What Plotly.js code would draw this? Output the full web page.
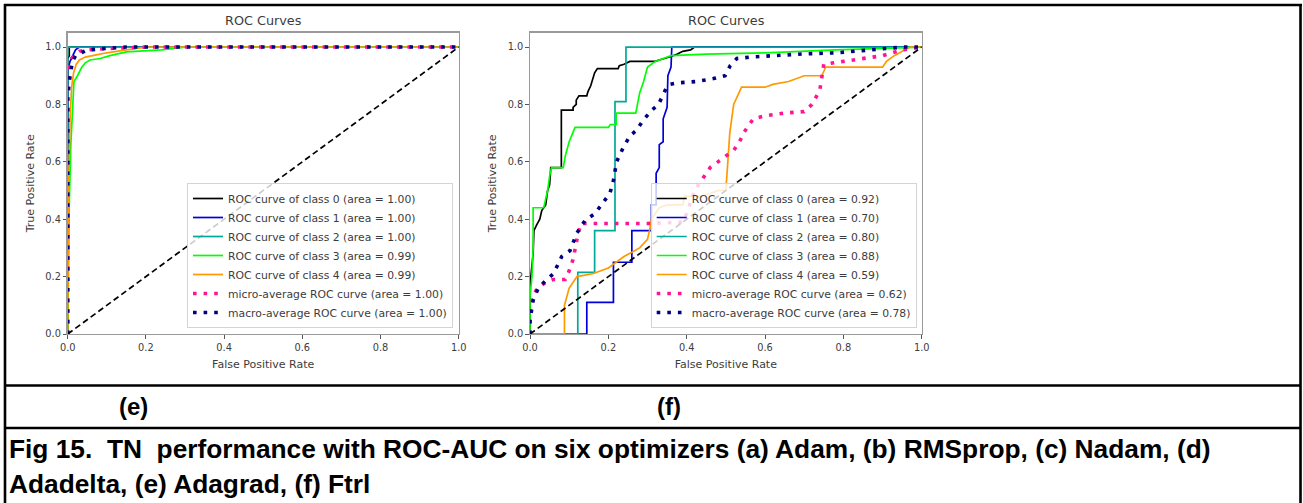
<!DOCTYPE html>
<html>
<head>
<meta charset="utf-8">
<script src="https://cdn.plot.ly/plotly-3.0.1.min.js"></script>
<style>
  html, body { margin: 0; padding: 0; background: #ffffff; }
  #fig { width: 1303px; height: 503px; }
</style>
</head>
<body>
<div id="fig"></div>
<script>
// ---------- Data ----------
const classLabels = ['0', '1', '2', '3', '4'];
const tickLabels = ['0.0', '0.2', '0.4', '0.6', '0.8', '1.0'];
const tickValues = [0, 0.2, 0.4, 0.6, 0.8, 1.0];

// (e) Adagrad
const adagradAuc = [1.00, 1.00, 1.00, 0.99, 0.99];
const adagradMicroAuc = 1.00;
const adagradMacroAuc = 1.00;
const adagradFpr0 = [0, 0, 0.004, 0.004, 1];
const adagradTpr0 = [0, 0.96, 0.97, 1.0, 1.0];
const adagradFpr1 = [0, 0, 0.006, 0.012, 0.02, 0.03, 1];
const adagradTpr1 = [0, 0.92, 0.95, 0.97, 0.99, 1.0, 1.0];
const adagradFpr2 = [0, 0, 1];
const adagradTpr2 = [0, 1.0, 1.0];
const adagradFpr3 = [0, 0.004, 0.008, 0.012, 0.016, 0.025, 0.036, 0.045, 0.057, 0.083, 0.108, 0.15, 0.24, 0.3, 1];
const adagradTpr3 = [0, 0.45, 0.66, 0.8, 0.88, 0.9, 0.93, 0.945, 0.955, 0.96, 0.97, 0.983, 0.99, 1.0, 1.0];
const adagradFpr4 = [0, 0.003, 0.006, 0.01, 0.015, 0.022, 0.03, 0.045, 0.07, 0.1, 0.15, 0.2, 1];
const adagradTpr4 = [0, 0.55, 0.75, 0.86, 0.91, 0.94, 0.955, 0.965, 0.972, 0.98, 0.99, 1.0, 1.0];
const adagradMicroFpr = [0, 0, 0.005, 0.01, 0.02, 0.03, 0.05, 0.1, 0.2, 1];
const adagradMicroTpr = [0, 0.9, 0.94, 0.96, 0.975, 0.985, 0.99, 0.995, 1.0, 1.0];
const adagradMacroFpr = [0, 0, 0.004, 0.008, 0.012, 0.02, 0.035, 0.05, 0.1, 0.15, 1];
const adagradMacroTpr = [0, 0.82, 0.88, 0.92, 0.95, 0.97, 0.98, 0.99, 0.995, 1.0, 1.0];

// (f) Ftrl
const ftrlAuc = [0.92, 0.70, 0.80, 0.88, 0.59];
const ftrlMicroAuc = 0.62;
const ftrlMacroAuc = 0.78;
const ftrlFpr0 = [0, 0, 0.008, 0.01, 0.017, 0.025, 0.03, 0.04, 0.045, 0.05, 0.053, 0.08, 0.08, 0.11, 0.11, 0.118, 0.118, 0.125, 0.145, 0.148, 0.155, 0.16, 0.165, 0.172, 0.225, 0.228, 0.24, 0.255, 0.32, 0.33, 0.345, 0.36, 0.375, 0.39, 0.41, 0.42, 1];
const ftrlTpr0 = [0, 0.17, 0.28, 0.36, 0.38, 0.40, 0.43, 0.45, 0.50, 0.52, 0.58, 0.58, 0.78, 0.78, 0.79, 0.80, 0.815, 0.83, 0.83, 0.845, 0.865, 0.885, 0.91, 0.925, 0.925, 0.935, 0.94, 0.95, 0.95, 0.955, 0.96, 0.967, 0.975, 0.985, 0.99, 1.0, 1.0];
const ftrlFpr1 = [0, 0.145, 0.145, 0.213, 0.213, 0.26, 0.26, 0.31, 0.31, 0.322, 0.322, 0.33, 0.33, 0.34, 0.34, 0.35, 0.352, 0.36, 0.362, 1];
const ftrlTpr1 = [0, 0, 0.11, 0.11, 0.25, 0.25, 0.36, 0.36, 0.45, 0.45, 0.56, 0.58, 0.66, 0.67, 0.75, 0.79, 0.9, 0.93, 1.0, 1.0];
const ftrlFpr2 = [0, 0.122, 0.122, 0.165, 0.165, 0.217, 0.217, 0.245, 0.245, 1];
const ftrlTpr2 = [0, 0, 0.215, 0.215, 0.36, 0.36, 0.81, 0.81, 1.0, 1.0];
const ftrlFpr3 = [0, 0, 0.005, 0.008, 0.008, 0.035, 0.04, 0.045, 0.05, 0.055, 0.085, 0.09, 0.1, 0.11, 0.115, 0.2, 0.205, 0.22, 0.22, 0.27, 0.275, 0.28, 0.29, 0.295, 0.3, 0.32, 0.34, 0.36, 0.45, 0.6, 0.78, 0.92, 1];
const ftrlTpr3 = [0, 0.13, 0.2, 0.3, 0.44, 0.44, 0.47, 0.5, 0.55, 0.58, 0.58, 0.62, 0.67, 0.7, 0.72, 0.72, 0.73, 0.73, 0.77, 0.77, 0.8, 0.84, 0.88, 0.91, 0.93, 0.95, 0.96, 0.97, 0.975, 0.98, 0.99, 0.995, 1.0];
const ftrlFpr4 = [0, 0.088, 0.088, 0.1, 0.12, 0.16, 0.2, 0.24, 0.28, 0.3, 0.305, 0.31, 0.33, 0.35, 0.39, 0.395, 0.44, 0.48, 0.5, 0.505, 0.51, 0.52, 0.54, 0.6, 0.62, 0.66, 0.7, 0.745, 0.755, 0.9, 0.91, 0.93, 0.97, 1];
const ftrlTpr4 = [0, 0, 0.1, 0.16, 0.2, 0.21, 0.23, 0.27, 0.3, 0.33, 0.36, 0.4, 0.44, 0.45, 0.45, 0.48, 0.48, 0.5, 0.5, 0.6, 0.7, 0.8, 0.86, 0.86, 0.87, 0.88, 0.9, 0.9, 0.93, 0.93, 0.95, 0.97, 1.0, 1.0];
const ftrlMicroFpr = [0, 0, 0.01, 0.02, 0.04, 0.06, 0.09, 0.1, 0.11, 0.115, 0.12, 0.125, 0.13, 0.2, 0.3, 0.39, 0.4, 0.41, 0.42, 0.44, 0.46, 0.48, 0.5, 0.52, 0.535, 0.545, 0.555, 0.57, 0.6, 0.65, 0.7, 0.72, 0.74, 0.745, 0.75, 0.8, 0.9, 0.95, 1];
const ftrlMicroTpr = [0, 0.08, 0.14, 0.16, 0.18, 0.19, 0.19, 0.22, 0.26, 0.3, 0.33, 0.36, 0.385, 0.385, 0.385, 0.39, 0.42, 0.46, 0.5, 0.54, 0.58, 0.6, 0.62, 0.64, 0.67, 0.7, 0.72, 0.75, 0.76, 0.77, 0.775, 0.8, 0.85, 0.9, 0.94, 0.95, 0.97, 0.99, 1.0];
const ftrlMacroFpr = [0, 0, 0.0085, 0.021, 0.043, 0.06, 0.081, 0.102, 0.119, 0.14, 0.166, 0.183, 0.204, 0.213, 0.221, 0.238, 0.255, 0.272, 0.289, 0.311, 0.328, 0.349, 0.357, 0.374, 0.426, 0.468, 0.498, 0.511, 0.528, 0.562, 0.613, 0.698, 0.783, 0.868, 0.953, 1];
const ftrlMacroTpr = [0, 0.05, 0.12, 0.16, 0.19, 0.21, 0.27, 0.29, 0.35, 0.395, 0.42, 0.45, 0.49, 0.535, 0.6, 0.65, 0.69, 0.71, 0.745, 0.78, 0.8, 0.86, 0.87, 0.875, 0.88, 0.89, 0.9, 0.935, 0.96, 0.965, 0.97, 0.976, 0.98, 0.99, 1.0, 1.0];

const captionLine1 = 'Fig 15.&nbsp; TN&nbsp; performance with ROC-AUC on six optimizers (a) Adam, (b) RMSprop, (c) Nadam, (d)';
const captionLine2 = 'Adadelta, (e) Adagrad, (f) Ftrl';

// ---------- Styling ----------
const W = 1303, H = 503;
const px = v => v / W;            // pixel column -> paper x
const py = v => 1 - v / H;        // pixel row -> paper y
const classColors = ['#000000', '#0000dd', '#00aa99', '#00ff00', '#ff9900'];
const textColor = '#3c3c3c';
const chartFont = 'DejaVu Sans, sans-serif';
const boldFont = 'Liberation Sans, Arial, sans-serif';

function panelTraces(fprs, tprs, aucs, microF, microT, microAuc, macroF, macroT, macroAuc, xa, ya, legendId) {
  const tr = [];
  for (let i = 0; i < classLabels.length; i++) {
    tr.push({
      x: fprs[i], y: tprs[i], xaxis: xa, yaxis: ya, legend: legendId,
      type: 'scatter', mode: 'lines',
      line: { color: classColors[i], width: 1.7 },
      name: 'ROC curve of class ' + classLabels[i] + ' (area = ' + aucs[i].toFixed(2) + ')'
    });
  }
  tr.push({
    x: microF, y: microT, xaxis: xa, yaxis: ya, legend: legendId,
    type: 'scatter', mode: 'lines',
    line: { color: '#ff1493', width: 3.6, dash: '3.6px,7px' },
    name: 'micro-average ROC curve (area = ' + microAuc.toFixed(2) + ')'
  });
  tr.push({
    x: macroF, y: macroT, xaxis: xa, yaxis: ya, legend: legendId,
    type: 'scatter', mode: 'lines',
    line: { color: '#000080', width: 3.6, dash: '3.6px,7px' },
    name: 'macro-average ROC curve (area = ' + macroAuc.toFixed(2) + ')'
  });
  tr.push({
    x: [0, 1], y: [0, 1], xaxis: xa, yaxis: ya,
    type: 'scatter', mode: 'lines', showlegend: false,
    line: { color: '#000000', width: 1.7, dash: '6px,3.5px' }
  });
  return tr;
}

const traces = [].concat(
  panelTraces(
    [adagradFpr0, adagradFpr1, adagradFpr2, adagradFpr3, adagradFpr4],
    [adagradTpr0, adagradTpr1, adagradTpr2, adagradTpr3, adagradTpr4],
    adagradAuc, adagradMicroFpr, adagradMicroTpr, adagradMicroAuc,
    adagradMacroFpr, adagradMacroTpr, adagradMacroAuc, 'x', 'y', 'legend'),
  panelTraces(
    [ftrlFpr0, ftrlFpr1, ftrlFpr2, ftrlFpr3, ftrlFpr4],
    [ftrlTpr0, ftrlTpr1, ftrlTpr2, ftrlTpr3, ftrlTpr4],
    ftrlAuc, ftrlMicroFpr, ftrlMicroTpr, ftrlMicroAuc,
    ftrlMacroFpr, ftrlMacroTpr, ftrlMacroAuc, 'x2', 'y2', 'legend2')
);

function xAxis(left, right, anchor) {
  return {
    domain: [px(left), px(right)], anchor: anchor, range: [0, 1],
    tickvals: tickValues, ticktext: tickLabels,
    ticks: 'outside', ticklen: 3.5, tickwidth: 1, tickcolor: '#555',
    tickfont: { family: chartFont, size: 9.8, color: textColor },
    showgrid: false, zeroline: false,
    showline: true, mirror: true, linecolor: '#9a9a9a', linewidth: 1.3,
    title: { text: 'False Positive Rate', font: { family: chartFont, size: 11, color: textColor }, standoff: 8 },
    automargin: false, fixedrange: true
  };
}
function yAxis(anchor) {
  return {
    domain: [py(334), py(32.7)], anchor: anchor, range: [0, 1.05],
    tickvals: tickValues, ticktext: tickLabels,
    ticks: 'outside', ticklen: 3.5, tickwidth: 1, tickcolor: '#555',
    tickfont: { family: chartFont, size: 9.8, color: textColor },
    showgrid: false, zeroline: false,
    showline: true, mirror: true, linecolor: '#9a9a9a', linewidth: 1.3,
    title: { text: 'True Positive Rate', font: { family: chartFont, size: 11, color: textColor }, standoff: 8 },
    automargin: false, fixedrange: true
  };
}
function legendBox(right) {
  return {
    x: px(right), y: py(328), xanchor: 'right', yanchor: 'bottom',
    bgcolor: 'rgba(255,255,255,0.8)', bordercolor: '#d4d4d4', borderwidth: 1,
    font: { family: chartFont, size: 10.8, color: textColor },
    itemwidth: 30, tracegroupgap: 0
  };
}

const frame = { type: 'line', xref: 'paper', yref: 'paper', line: { color: '#000000', width: 2.6 } };
const shapes = [
  Object.assign({}, frame, { x0: px(4), x1: px(1302), y0: py(5), y1: py(5) }),
  Object.assign({}, frame, { x0: px(5), x1: px(5), y0: py(4), y1: py(503) }),
  Object.assign({}, frame, { x0: px(1300.5), x1: px(1300.5), y0: py(4), y1: py(503) }),
  Object.assign({}, frame, { x0: px(5), x1: px(1300.5), y0: py(385.5), y1: py(385.5) }),
  Object.assign({}, frame, { x0: px(5), x1: px(1300.5), y0: py(428), y1: py(428) })
];

const labelFont = { family: boldFont, size: 24, color: '#000000' };
const captionFont = { family: boldFont, size: 26.3, color: '#000000' };
const titleFont = { family: chartFont, size: 12.8, color: textColor };
const annotations = [
  { text: 'ROC Curves', x: px(263), y: py(21), xref: 'paper', yref: 'paper', showarrow: false,
    xanchor: 'center', yanchor: 'middle', font: titleFont },
  { text: 'ROC Curves', x: px(726), y: py(21), xref: 'paper', yref: 'paper', showarrow: false,
    xanchor: 'center', yanchor: 'middle', font: titleFont },
  { text: '<b>(e)</b>', x: px(133), y: py(406), xref: 'paper', yref: 'paper', showarrow: false,
    xanchor: 'center', yanchor: 'middle', font: labelFont },
  { text: '<b>(f)</b>', x: px(669), y: py(406), xref: 'paper', yref: 'paper', showarrow: false,
    xanchor: 'center', yanchor: 'middle', font: labelFont },
  { text: '<b>' + captionLine1 + '</b>', x: px(7), y: py(449), xref: 'paper', yref: 'paper', showarrow: false,
    xanchor: 'left', yanchor: 'middle', font: captionFont },
  { text: '<b>' + captionLine2 + '</b>', x: px(7), y: py(484), xref: 'paper', yref: 'paper', showarrow: false,
    xanchor: 'left', yanchor: 'middle', font: captionFont }
];

const layout = {
  width: W, height: H,
  margin: { l: 0, r: 0, t: 0, b: 0, pad: 0 },
  paper_bgcolor: '#ffffff', plot_bgcolor: '#ffffff',
  showlegend: true,
  xaxis: xAxis(67.7, 458.7, 'y'),
  yaxis: yAxis('x'),
  xaxis2: xAxis(530, 921.7, 'y2'),
  yaxis2: yAxis('x2'),
  legend: legendBox(453),
  legend2: legendBox(916.7),
  shapes: shapes,
  annotations: annotations
};

Plotly.newPlot('fig', traces, layout, { staticPlot: true, displayModeBar: false });
</script>
</body>
</html>
